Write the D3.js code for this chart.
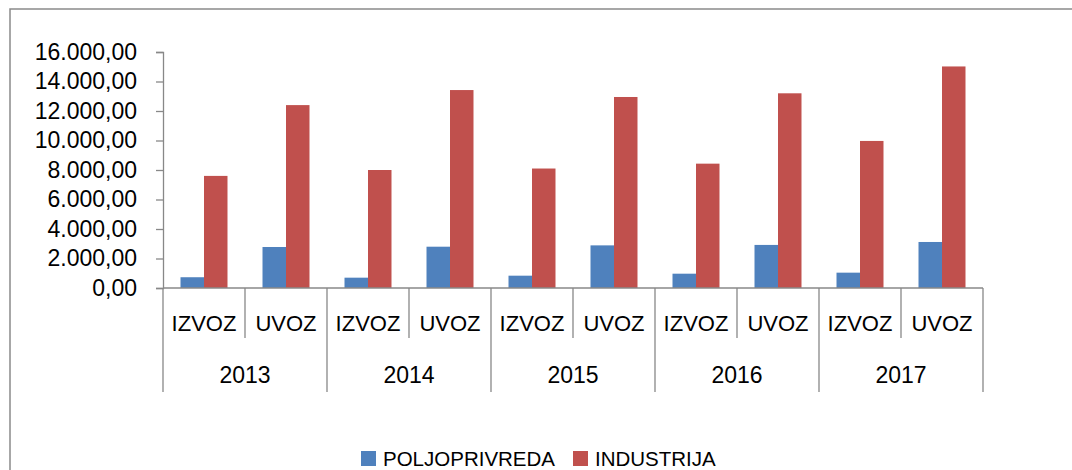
<!DOCTYPE html>
<html>
<head>
<meta charset="utf-8">
<script src="https://cdn.jsdelivr.net/npm/d3@7"></script>
<style>
  body { margin: 0; background: #fff; }
  svg { display: block; font-family: "Liberation Sans", Arial, sans-serif; }
</style>
</head>
<body>
<script>
// data
const years = ["2013", "2014", "2015", "2016", "2017"];
const flows = ["IZVOZ", "UVOZ"];
const seriesNames = ["POLJOPRIVREDA", "INDUSTRIJA"];
const poljoprivreda = [730, 2780, 700, 2800, 835, 2890, 970, 2920, 1040, 3120];
const industrija = [7600, 12400, 8000, 13420, 8100, 12950, 8430, 13200, 9970, 15020];
const yTicks = [0, 2000, 4000, 6000, 8000, 10000, 12000, 14000, 16000];

const colors = ["#4F81BD", "#C0504D"];
const axisColor = "#888888";

const width = 1072, height = 470;
const plot = { left: 163, right: 983, top: 52, bottom: 288 };

const locale = d3.formatLocale({ decimal: ",", thousands: ".", grouping: [3], currency: ["", ""] });
const fmt = locale.format(",.2f");

// flat category list, one per (year, flow)
const cats = [];
years.forEach(y => flows.forEach(f => cats.push({ year: y, flow: f, key: y + "-" + f })));
cats.forEach((c, i) => { c.values = [poljoprivreda[i], industrija[i]]; });

const svg = d3.select("body").append("svg")
  .attr("width", width)
  .attr("height", height);

// chart frame (runs off the right and bottom edge)
svg.append("rect")
  .attr("x", 10).attr("y", 9)
  .attr("width", 1100).attr("height", 500)
  .attr("fill", "none")
  .attr("stroke", "#8a8a8a")
  .attr("stroke-width", 1.5);

const x = d3.scaleBand()
  .domain(cats.map(c => c.key))
  .range([plot.left, plot.right]);

const xInner = d3.scaleBand()
  .domain(seriesNames)
  .range([0, x.bandwidth()])
  .paddingOuter(0.745);

const y = d3.scaleLinear()
  .domain([0, 16000])
  .range([plot.bottom, plot.top]);

// y axis
const yAxis = svg.append("g")
  .attr("transform", `translate(${plot.left},0)`)
  .call(d3.axisLeft(y).tickValues(yTicks).tickFormat(fmt).tickSize(7).tickPadding(19));
yAxis.select(".domain").attr("stroke", axisColor).attr("stroke-width", 1.3);
yAxis.selectAll(".tick line").attr("stroke", axisColor).attr("stroke-width", 1.3);
yAxis.selectAll(".tick text")
  .attr("fill", "#000")
  .style("font-size", "23px")
  .style("font-family", "Liberation Sans, Arial, sans-serif");

// bars
const groups = svg.append("g").selectAll("g")
  .data(cats)
  .join("g")
  .attr("transform", d => `translate(${x(d.key)},0)`);

groups.selectAll("rect")
  .data(d => d.values.map((v, i) => ({ name: seriesNames[i], value: v, i })))
  .join("rect")
  .attr("x", d => xInner(d.name))
  .attr("width", xInner.bandwidth())
  .attr("y", d => y(d.value))
  .attr("height", d => y(0) - y(d.value))
  .attr("fill", d => colors[d.i]);

// x axis line
svg.append("line")
  .attr("x1", plot.left).attr("x2", plot.right)
  .attr("y1", plot.bottom).attr("y2", plot.bottom)
  .attr("stroke", axisColor).attr("stroke-width", 1.3);

// category separators: short inside a year, long between years
const bounds = d3.range(cats.length + 1);
svg.append("g").selectAll("line")
  .data(bounds)
  .join("line")
  .attr("x1", i => plot.left + i * x.bandwidth())
  .attr("x2", i => plot.left + i * x.bandwidth())
  .attr("y1", plot.bottom)
  .attr("y2", i => i % 2 === 0 ? 392 : 338)
  .attr("stroke", axisColor)
  .attr("stroke-width", 1.3);

// flow labels
svg.append("g").selectAll("text")
  .data(cats)
  .join("text")
  .attr("x", d => x(d.key) + x.bandwidth() / 2)
  .attr("y", 323)
  .attr("dy", "0.35em")
  .attr("text-anchor", "middle")
  .style("font-size", "22px")
  .text(d => d.flow);

// year labels
svg.append("g").selectAll("text")
  .data(years)
  .join("text")
  .attr("x", (d, i) => x(d + "-" + flows[0]) + x.bandwidth())
  .attr("y", 375)
  .attr("dy", "0.35em")
  .attr("text-anchor", "middle")
  .style("font-size", "23px")
  .text(d => d);

// legend
const legendX = [361, 573];
const legend = svg.append("g").selectAll("g")
  .data(seriesNames)
  .join("g")
  .attr("transform", (d, i) => `translate(${legendX[i]},451)`);
legend.append("rect")
  .attr("width", 15).attr("height", 15)
  .attr("fill", (d, i) => colors[i]);
legend.append("text")
  .attr("x", 22)
  .attr("y", 15)
  .style("font-size", "20.5px")
  .text(d => d);
</script>
</body>
</html>
